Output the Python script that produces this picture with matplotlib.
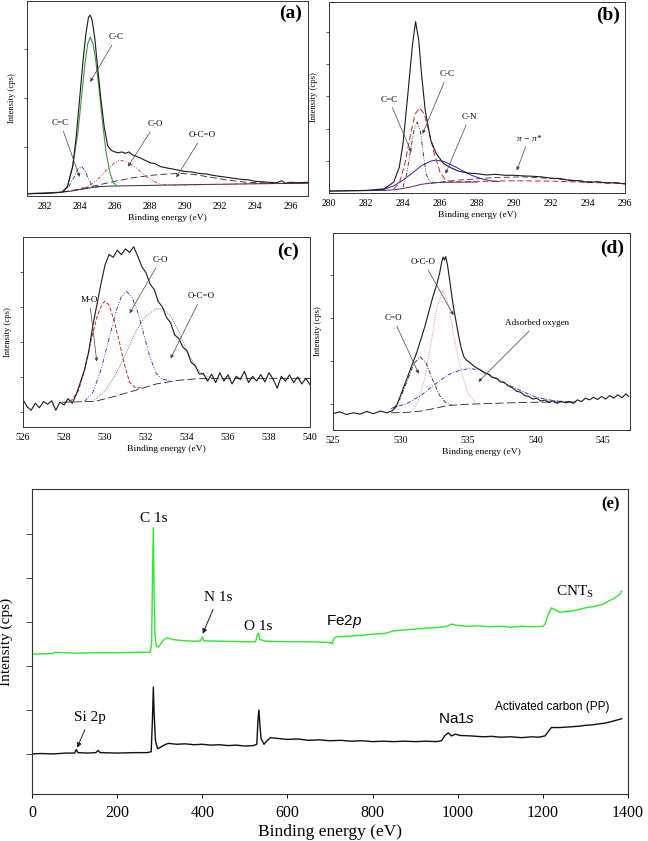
import matplotlib.pyplot as plt

plt.rcParams['font.family'] = 'Liberation Serif'
plt.rcParams['mathtext.fontset'] = 'custom'
plt.rcParams['mathtext.rm'] = 'Liberation Sans'
plt.rcParams['mathtext.it'] = 'Liberation Sans:italic'

W, H = 648, 841

# ---------------- panel (a) C 1s, activated carbon ----------------
a_env_x = [281.0, 281.5, 282.0, 282.5, 283.0, 283.3, 283.6, 283.8, 284.0, 284.2, 284.35, 284.5, 284.6,
           284.7, 284.85, 285.0, 285.2, 285.4, 285.6, 285.8, 286.0, 286.2, 286.4, 286.6, 286.8, 287.0,
           287.3, 287.6, 288.0, 288.3, 288.6, 289.0, 289.3, 289.6, 290.0, 290.4, 290.8, 291.2, 291.6,
           292.0, 292.4, 292.8, 293.2, 293.6, 294.0, 294.4, 294.8, 295.2, 295.5, 295.7, 296.0, 296.4, 297.0]
a_env_y = [0.04, 0.05, 0.05, 0.06, 0.08, 0.18, 0.6, 1.2, 2.0, 2.8, 3.3, 3.65, 3.69,
           3.6, 3.25, 2.7, 2.0, 1.4, 1.02, 0.93, 0.9, 0.88, 0.9, 0.87, 0.9, 0.84,
           0.8, 0.75, 0.68, 0.66, 0.6, 0.57, 0.55, 0.53, 0.5, 0.49, 0.46, 0.45, 0.42,
           0.4, 0.38, 0.36, 0.34, 0.33, 0.3, 0.29, 0.28, 0.27, 0.31, 0.26, 0.28, 0.27, 0.28]
a_cc_x = [283.0, 283.3, 283.6, 283.9, 284.1, 284.3, 284.45, 284.6, 284.75, 284.9, 285.1, 285.3, 285.5,
          285.7, 285.9, 286.1]
a_cc_y = [0.08, 0.2, 0.6, 1.3, 2.0, 2.7, 3.1, 3.24, 3.12, 2.8, 2.2, 1.5, 0.9, 0.5, 0.28, 0.21]
a_cdc_x = [283.0, 283.4, 283.7, 283.9, 284.1, 284.3, 284.5, 284.7, 284.9, 285.2]
a_cdc_y = [0.08, 0.2, 0.4, 0.55, 0.61, 0.52, 0.35, 0.22, 0.18, 0.19]
a_co_x = [283.5, 284.5, 285.0, 285.5, 286.0, 286.3, 286.7, 287.2, 287.7, 288.2, 288.7, 289.5, 291.0,
          294.0, 297.0]
a_co_y = [0.1, 0.2, 0.33, 0.52, 0.68, 0.73, 0.7, 0.58, 0.42, 0.3, 0.23, 0.22, 0.23, 0.25, 0.26]
a_oco_x = [283.0, 284.0, 285.0, 286.0, 287.0, 288.0, 289.0, 289.8, 290.5, 291.5, 292.5, 293.5, 295.0]
a_oco_y = [0.08, 0.14, 0.22, 0.3, 0.37, 0.42, 0.45, 0.46, 0.44, 0.38, 0.32, 0.28, 0.26]
a_bg_x = [281.0, 283.0, 283.5, 284.0, 284.5, 285.0, 285.5, 287.0, 290.0, 294.0, 297.0]
a_bg_y = [0.05, 0.08, 0.1, 0.13, 0.16, 0.19, 0.2, 0.21, 0.23, 0.25, 0.26]

# ---------------- panel (b) C 1s, CNTs ----------------
b_env_x = [280.0, 281.0, 282.0, 283.0, 283.5, 283.8, 284.0, 284.15, 284.3, 284.5, 284.68, 284.85,
           285.0, 285.2, 285.5, 285.8, 286.2, 286.6, 287.0, 287.5, 288.0, 288.5, 289.0, 289.5, 290.0,
           290.5, 291.0, 291.5, 292.0, 292.5, 293.0, 293.5, 294.0, 294.5, 295.0, 295.5, 296.0]
b_env_y = [0.06, 0.07, 0.08, 0.13, 0.34, 0.8, 1.53, 2.4, 3.3, 4.54, 5.32, 4.75,
           3.7, 2.57, 1.64, 1.22, 0.91, 0.78, 0.68, 0.62, 0.6, 0.56, 0.58, 0.55, 0.55,
           0.53, 0.52, 0.5, 0.46, 0.45, 0.39, 0.38, 0.33, 0.35, 0.31, 0.32, 0.28]
b_cc_x = [283.5, 283.8, 284.1, 284.4, 284.65, 284.9, 285.15, 285.4, 285.7, 286.0, 286.3, 286.7, 288.0,
          290.0, 292.0, 294.0, 296.0]
b_cc_y = [0.13, 0.3, 0.9, 1.8, 2.45, 2.64, 2.45, 1.9, 1.2, 0.65, 0.4, 0.34, 0.36, 0.38, 0.37, 0.33, 0.29]
b_cdc_x = [284.0, 284.2, 284.4, 284.6, 284.77, 284.95, 285.1, 285.25, 285.4, 285.6]
b_cdc_y = [0.18, 0.6, 1.3, 1.95, 2.2, 1.9, 1.2, 0.6, 0.38, 0.34]
b_cn_x = [282.5, 283.0, 283.5, 284.0, 284.5, 285.0, 285.5, 285.8, 286.2, 286.7, 287.2, 287.7, 288.2,
          288.7, 289.2]
b_cn_y = [0.08, 0.12, 0.22, 0.4, 0.62, 0.85, 0.99, 1.02, 0.98, 0.85, 0.7, 0.55, 0.45, 0.38, 0.35]
b_pi_x = [285.5, 287.0, 289.0, 290.5, 292.0, 294.0, 296.0]
b_pi_y = [0.3, 0.4, 0.48, 0.5, 0.45, 0.36, 0.3]
b_bg_x = [280.0, 283.0, 283.5, 284.0, 284.5, 285.0, 285.5, 286.0, 288.0]
b_bg_y = [0.06, 0.08, 0.1, 0.14, 0.2, 0.27, 0.31, 0.33, 0.34]

# ---------------- panel (c) O 1s, CNTs ----------------
c_env_x = [526.0, 526.2, 526.4, 526.6, 526.8, 527.0, 527.2, 527.4, 527.6, 527.8, 528.0, 528.2, 528.4,
           528.6, 528.8, 529.0, 529.2, 529.4, 529.6, 529.8, 530.0, 530.2, 530.4, 530.6, 530.8, 531.0,
           531.2, 531.4, 531.6, 531.8, 532.0, 532.2, 532.4, 532.6, 532.8, 533.0, 533.2, 533.4, 533.6,
           533.8, 534.0, 534.2, 534.4, 534.6, 534.8, 535.0, 535.2, 535.4, 535.6, 535.8, 536.0, 536.2,
           536.4, 536.6, 536.8, 537.0, 537.2, 537.4, 537.6, 537.8, 538.0, 538.2, 538.4, 538.6, 538.8,
           539.0, 539.2, 539.4, 539.6, 539.8, 540.0]
c_env_y = [0.35, 0.15, 0.05, 0.25, 0.12, 0.3, 0.22, 0.32, 0.05, 0.28, 0.2, 0.38, 0.25,
           0.5, 0.85, 1.2, 1.7, 2.45, 3.05, 3.65, 4.2, 4.5, 4.42, 4.62, 4.5, 4.66,
           4.56, 4.72, 4.45, 4.15, 3.98, 3.65, 3.5, 3.15, 3.0, 2.7, 2.55, 2.2, 2.1,
           1.85, 1.75, 1.42, 1.32, 1.08, 1.1, 0.88, 1.08, 0.84, 1.12, 0.88, 1.06, 0.8,
           1.02, 0.93, 1.16, 0.84, 1.02, 0.88, 1.07, 0.86, 1.12, 0.94, 0.68, 1.02, 0.88,
           1.06, 0.84, 1.0, 0.8, 0.96, 0.78]
c_mo_x = [528.3, 528.7, 529.0, 529.3, 529.6, 529.85, 530.0, 530.2, 530.45, 530.7, 530.95, 531.2,
          531.5, 531.8]
c_mo_y = [0.28, 0.6, 1.2, 2.0, 2.7, 3.08, 3.17, 3.05, 2.6, 2.0, 1.35, 0.85, 0.68, 0.7]
c_co_x = [529.0, 529.4, 529.8, 530.2, 530.55, 530.8, 531.05, 531.3, 531.6, 531.9, 532.2, 532.5,
          532.8, 533.2]
c_co_y = [0.3, 0.55, 1.2, 2.1, 2.9, 3.3, 3.44, 3.3, 2.85, 2.2, 1.55, 1.1, 0.93, 0.9]
c_oco_x = [529.4, 530.0, 530.5, 531.0, 531.5, 532.0, 532.5, 532.8, 533.2, 533.6, 534.0, 534.4,
           534.8, 535.3]
c_oco_y = [0.3, 0.6, 1.05, 1.65, 2.3, 2.75, 2.95, 2.95, 2.75, 2.3, 1.75, 1.3, 1.05, 0.96]
c_bg_x = [527.9, 529.5, 530.5, 531.5, 532.5, 533.5, 534.5, 536.0, 540.0]
c_bg_y = [0.28, 0.3, 0.45, 0.62, 0.8, 0.9, 0.95, 0.96, 0.96]

# ---------------- panel (d) O 1s, activated carbon ----------------
d_env_x = [525.0, 525.5, 526.0, 526.5, 527.0, 527.5, 528.0, 528.5, 529.0, 529.4, 529.7, 530.0,
           530.3, 530.6, 530.9, 531.2, 531.5, 531.8, 532.1, 532.4, 532.7, 532.9, 533.05, 533.15,
           533.25, 533.35, 533.5, 533.7, 533.9, 534.1, 534.3, 534.5, 534.7, 534.9, 535.1, 535.3,
           535.6, 535.9, 536.2, 536.5, 536.8, 537.1, 537.4, 537.7, 538.0, 538.3, 538.6, 538.9,
           539.2, 539.5, 539.8, 540.1, 540.4, 540.7, 541.0, 541.3, 541.6, 541.9, 542.2, 542.5,
           542.8, 543.1, 543.4, 543.7, 544.0, 544.3, 544.6, 544.9, 545.2, 545.5, 545.8, 546.1,
           546.4, 546.7, 546.9]
d_env_y = [-0.22, -0.18, -0.24, -0.2, -0.23, -0.17, -0.22, -0.16, -0.2, -0.15, -0.05, 0.2,
           0.45, 0.7, 0.95, 1.2, 1.5, 1.8, 2.15, 2.5, 2.8, 3.05, 3.3, 3.42,
           3.35, 3.43, 3.2, 2.75, 2.3, 1.95, 1.6, 1.3, 1.1, 1.02, 0.98, 0.92,
           0.85, 0.8, 0.73, 0.7, 0.62, 0.6, 0.52, 0.5, 0.42, 0.38, 0.3, 0.28,
           0.2, 0.18, 0.12, 0.14, 0.07, 0.1, 0.04, 0.08, 0.02, 0.07, 0.03, 0.06,
           0.02, 0.1, 0.06, 0.14, 0.1, 0.16, 0.11, 0.18, 0.12, 0.2, 0.14, 0.22,
           0.15, 0.24, 0.18]
d_cdo_x = [529.5, 530.0, 530.5, 531.0, 531.47, 531.9, 532.4, 532.9, 533.4, 533.8]
d_cdo_y = [-0.1, 0.15, 0.55, 0.95, 1.1, 0.95, 0.55, 0.2, 0.02, -0.02]
d_oco_x = [530.8, 531.3, 531.8, 532.3, 532.7, 533.14, 533.55, 534.0, 534.5, 535.0, 535.6]
d_oco_y = [-0.18, 0.05, 0.6, 1.5, 2.25, 2.65, 2.3, 1.5, 0.75, 0.25, 0.02]
d_ads_x = [529.3, 530.5, 531.5, 532.5, 533.5, 534.5, 535.2, 536.0, 537.0, 538.0, 539.0, 540.0,
           541.0, 542.0, 543.0]
d_ads_y = [-0.1, 0.02, 0.2, 0.45, 0.68, 0.8, 0.83, 0.78, 0.62, 0.45, 0.3, 0.17, 0.1, 0.06, 0.05]
d_bg_x = [529.3, 530.5, 531.5, 532.5, 533.5, 535.0, 537.0, 539.0, 541.0, 543.0]
d_bg_y = [-0.2, -0.19, -0.16, -0.1, -0.03, 0.0, 0.02, 0.04, 0.05, 0.05]

# ---------------- panel (e) survey spectra ----------------
e_ac_x = [0, 20, 50, 80, 100, 104, 108, 130, 150, 155, 160, 200, 240, 270, 280, 283, 285, 287, 290,
          295, 300, 310, 320, 340, 360, 380, 400, 420, 440, 460, 480, 500, 520, 528, 531, 533, 535,
          538, 545, 552, 560, 580, 600, 625, 650, 675, 700, 725, 750, 775, 800, 825, 850, 875, 900,
          925, 950, 962, 970, 978, 985, 995, 1005, 1030, 1060, 1080, 1100, 1125, 1150, 1175, 1190,
          1205, 1212, 1220, 1240, 1255, 1270, 1285, 1300, 1315, 1330, 1345, 1355, 1370, 1378, 1385]
e_ac_y = [0.0, 0.01, 0.0, 0.02, 0.02, 0.1, 0.03, 0.02, 0.03, 0.08, 0.03, 0.02, 0.03, 0.03, 0.05,
          0.8, 1.52, 0.9, 0.3, 0.12, 0.14, 0.2, 0.24, 0.22, 0.23, 0.21, 0.22, 0.2, 0.21, 0.19, 0.2,
          0.18, 0.19, 0.22, 0.8, 1.0, 0.7, 0.35, 0.22, 0.3, 0.37, 0.35, 0.33, 0.34, 0.31, 0.32, 0.3,
          0.31, 0.29, 0.3, 0.28, 0.29, 0.28, 0.29, 0.28, 0.29, 0.28, 0.3, 0.42, 0.48, 0.41, 0.45,
          0.42, 0.41, 0.39, 0.4, 0.38, 0.39, 0.37, 0.39, 0.38, 0.41, 0.5, 0.6, 0.6, 0.61, 0.62, 0.63,
          0.65, 0.66, 0.68, 0.7, 0.72, 0.76, 0.78, 0.8]
e_cnt_x = [0, 50, 52, 100, 150, 200, 250, 278, 281, 283, 285, 287, 289, 292, 296, 300, 310, 318,
           330, 350, 380, 396, 400, 404, 450, 500, 525, 529, 532, 535, 550, 600, 650, 700, 705, 710,
           715, 750, 780, 800, 830, 850, 880, 900, 930, 950, 975, 985, 1000, 1025, 1050, 1075, 1100,
           1125, 1150, 1175, 1200, 1205, 1212, 1220, 1228, 1240, 1260, 1280, 1300, 1320, 1340, 1350,
           1360, 1370, 1380, 1385]
e_cnt_y = [2.27, 2.28, 2.31, 2.29, 2.3, 2.3, 2.31, 2.31, 2.5, 4.0, 5.14, 3.5, 2.7, 2.45, 2.43, 2.47,
           2.6, 2.64, 2.6, 2.58, 2.56, 2.57, 2.66, 2.57, 2.56, 2.55, 2.55, 2.68, 2.75, 2.6, 2.56, 2.55,
           2.55, 2.53, 2.5, 2.64, 2.66, 2.68, 2.7, 2.72, 2.74, 2.8, 2.82, 2.84, 2.86, 2.87, 2.9, 2.95,
           2.92, 2.9, 2.91, 2.89, 2.9, 2.88, 2.9, 2.89, 2.9, 2.95, 3.15, 3.32, 3.28, 3.22, 3.24, 3.27,
           3.32, 3.35, 3.4, 3.45, 3.5, 3.55, 3.62, 3.7]

xt_a = [282, 284, 286, 288, 290, 292, 294, 296]
xt_b = [280, 282, 284, 286, 288, 290, 292, 294, 296]
xt_c = [526, 528, 530, 532, 534, 536, 538, 540]
xt_d = [525, 530, 535, 540, 545]
xt_e = [0, 200, 400, 600, 800, 1000, 1200, 1400]

ARROW = dict(arrowstyle='-|>', color='#444444', lw=0.5, mutation_scale=5, shrinkA=1, shrinkB=0)


def box(left, top, right, bottom):
        return [left / W, 1 - bottom / H, (right - left) / W, (bottom - top) / H]


def small_axes(fig, rect, xlim, ylim, xticks, yticks):
        ax = fig.add_axes(rect)
        ax.set_xlim(xlim)
        ax.set_ylim(ylim)
        ax.set_xticks(xticks)
        ax.set_yticks(yticks)
        ax.set_yticklabels([])
        ax.tick_params(axis='y', direction='out', length=2.5, width=0.6, color='#444444')
        ax.tick_params(axis='x', length=0, labelsize=7, pad=4)
        for s in ax.spines.values():
                s.set_linewidth(0.7)
                s.set_color('#333333')
        ax.set_xlabel('Binding energy (eV)', fontsize=6.8, labelpad=2.5)
        ax.set_ylabel('Intensity (cps)', fontsize=6.2, labelpad=2)
        return ax


def note(ax, text, xy, xytext, size=6.5, **kw):
        ax.annotate(text, xy=xy, xytext=xytext, fontsize=size, ha='center', va='center',
                    arrowprops=ARROW, **kw)


fig = plt.figure(figsize=(6.48, 8.41), dpi=100)

# (a)
ax = small_axes(fig, box(27, 1, 308, 196), (281, 297), (0, 3.98), xt_a, [1, 2, 3])
ax.plot(a_bg_x, a_bg_y, color='#2a2a55', lw=0.7)
ax.plot(a_oco_x, a_oco_y, color='#222222', lw=0.6, ls=(0, (8, 4)))
ax.plot(a_co_x, a_co_y, color='#d62020', lw=0.6, ls=(0, (4, 2, 1, 2, 1, 2)))
ax.plot(a_cdc_x, a_cdc_y, color='#2222c8', lw=0.6, ls=(0, (5, 2, 1, 2)))
ax.plot(a_cc_x, a_cc_y, color='#3c9c3c', lw=0.8)
ax.plot(a_env_x, a_env_y, color='#1a1a1a', lw=0.8)
note(ax, 'C-C', (284.6, 2.33), (286.1, 3.24))
note(ax, 'C=C', (284.0, 0.39), (282.9, 1.49))
note(ax, 'C-O', (286.75, 0.6), (288.3, 1.47))
note(ax, 'O-C=O', (289.5, 0.38), (291.0, 1.24))
ax.text(296.0, 3.73, '(a)', fontsize=14, fontweight='bold', ha='center', va='center')

# (b)
ax = small_axes(fig, box(329, 2, 625, 193), (280, 296), (0, 5.93), xt_b, [1, 2, 3, 4, 5])
ax.plot(b_bg_x, b_bg_y, color='#5a2a6a', lw=0.7)
ax.plot(b_pi_x, b_pi_y, color='#333333', lw=0.6, ls=(0, (7, 4)))
ax.plot(b_cn_x, b_cn_y, color='#2222c8', lw=0.7)
ax.plot(b_cc_x, b_cc_y, color='#d62020', lw=0.7, ls=(0, (6, 3)))
ax.plot(b_cdc_x, b_cdc_y, color='#222222', lw=0.6, ls=(0, (5, 2, 1, 2, 1, 2)))
ax.plot(b_env_x, b_env_y, color='#1a1a1a', lw=0.8)
note(ax, 'C=C', (284.45, 1.27), (283.24, 2.9))
note(ax, 'C-C', (285.06, 1.84), (286.4, 3.68))
note(ax, 'C-N', (286.3, 0.6), (287.6, 2.36))
note(ax, 'π − π*', (290.15, 0.7), (290.8, 1.69), style='italic')
ax.text(295.1, 5.52, '(b)', fontsize=14, fontweight='bold', ha='center', va='center')

# (c)
ax = small_axes(fig, box(23, 237, 310, 427), (526, 540), (-0.43, 5.0), xt_c, [0, 1, 2, 3, 4])
ax.plot(c_bg_x, c_bg_y, color='#222222', lw=0.6, ls=(0, (10, 4)))
ax.plot(c_oco_x, c_oco_y, color='#555555', lw=0.6, ls=(0, (1, 1.5)))
ax.plot(c_co_x, c_co_y, color='#2222c8', lw=0.6, ls=(0, (5, 2, 1, 2, 1, 2)))
ax.plot(c_mo_x, c_mo_y, color='#d62020', lw=0.7, ls=(0, (4, 2)))
ax.plot(c_env_x, c_env_y, color='#1a1a1a', lw=0.8)
note(ax, 'M-O', (529.6, 1.44), (529.24, 3.2))
note(ax, 'C-O', (531.2, 2.82), (532.7, 4.34))
note(ax, 'O-C=O', (533.2, 1.53), (534.7, 3.3))
ax.text(538.95, 4.58, '(c)', fontsize=14, fontweight='bold', ha='center', va='center')

# (d)
ax = small_axes(fig, box(333, 233, 630, 430), (525, 547), (-0.6, 3.98), xt_d, [0, 1, 2, 3])
ax.plot(d_bg_x, d_bg_y, color='#222222', lw=0.6, ls=(0, (10, 4)))
ax.plot(d_ads_x, d_ads_y, color='#2222c8', lw=0.6, ls=(0, (5, 2, 1, 2)))
ax.plot(d_oco_x, d_oco_y, color='#e07070', lw=0.6, ls=(0, (1, 1.5)))
ax.plot(d_cdo_x, d_cdo_y, color='#222222', lw=0.6, ls=(0, (5, 2, 1, 2)))
ax.plot(d_env_x, d_env_y, color='#1a1a1a', lw=0.8)
note(ax, 'O-C-O', (533.93, 2.07), (531.7, 3.31))
note(ax, 'C=O', (531.35, 0.71), (529.45, 2.0))
note(ax, 'Adsorbed oxygen', (535.77, 0.52), (540.1, 1.88))
ax.text(545.7, 3.62, '(d)', fontsize=14, fontweight='bold', ha='center', va='center')

# (e)
ax = fig.add_axes(box(32, 489, 628, 794))
ax.plot(e_cnt_x, e_cnt_y, color='#2ee82e', lw=1.0)
ax.plot(e_ac_x, e_ac_y, color='#111111', lw=1.0)
ax.set_xlim(0, 1400)
ax.set_ylim(-0.91, 6.02)
ax.set_xticks(xt_e)
ax.set_yticks([0, 1, 2, 3, 4, 5])
ax.set_yticklabels([])
ax.tick_params(axis='y', direction='out', length=4, width=0.7, color='#444444')
ax.tick_params(axis='x', direction='out', length=3, width=0.7, labelsize=11.5, pad=5)
for s in ax.spines.values():
        s.set_linewidth(0.8)
        s.set_color('#333333')
ax.set_xlabel('Binding energy (eV)', fontsize=12.5, labelpad=2)
ax.set_ylabel('Intensity (cps)', fontsize=11, labelpad=6)

ax.text(285, 5.36, 'C 1s', fontsize=11, ha='center', va='center')
ax.annotate('N 1s', xy=(401, 2.73), xytext=(437, 3.55), fontsize=11, ha='center', va='center',
            arrowprops=dict(arrowstyle='-|>', color='#222222', lw=0.7, mutation_scale=7, shrinkA=2, shrinkB=0))
ax.text(531, 2.9, 'O 1s', fontsize=11, ha='center', va='center')
ax.text(690, 3.0, r'Fe2$\mathit{p}$', fontsize=11, ha='left', va='center', family='Liberation Sans')
ax.text(1276, 3.68, r'CNT$_{\mathregular{S}}$', fontsize=11, ha='center', va='center')
ax.annotate('Si 2p', xy=(106, 0.14), xytext=(136, 0.82), fontsize=11, ha='center', va='center',
            arrowprops=dict(arrowstyle='-|>', color='#222222', lw=0.7, mutation_scale=7, shrinkA=2, shrinkB=0))
ax.text(998, 0.8, r'Na$\mathit{1s}$', fontsize=11, ha='center', va='center', family='Liberation Sans')
ax.text(1221, 1.07, 'Activated carbon (PP)', fontsize=8.5, ha='center', va='center', family='Liberation Sans')
ax.text(1358, 5.66, '(e)', fontsize=12, fontweight='bold', ha='center', va='center')

fig.savefig('out.png', dpi=100)
